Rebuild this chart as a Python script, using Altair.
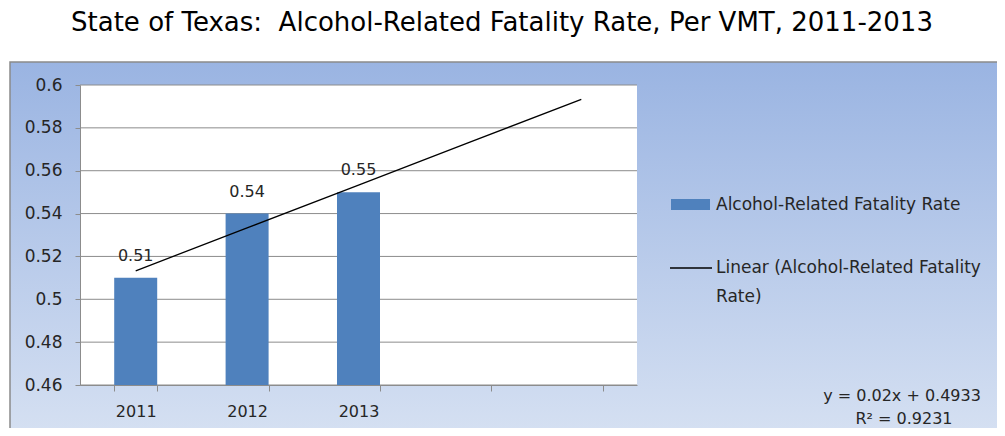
import altair as alt
import pandas as pd

# ---------------- data ----------------
categories = ["2011", "2012", "2013", " ", "  "]
years = ["2011", "2012", "2013"]
rates = [0.51, 0.54, 0.55]
rate_labels = ["0.51", "0.54", "0.55"]
trend_values = [0.5133, 0.5333, 0.5533, 0.5733, 0.5933]
y_ticks = [0.46, 0.48, 0.50, 0.52, 0.54, 0.56, 0.58, 0.60]
title_text = "State of Texas:\u00a0 Alcohol-Related Fatality Rate, Per VMT, 2011-2013"
legend_labels = ["Alcohol-Related Fatality Rate", "Linear (Alcohol-Related Fatality", "Rate)"]
equation_lines = ["y = 0.02x + 0.4933", "R\u00b2 = 0.9231"]

# ---------------- layout / style ----------------
W, H = 557, 300
FONT = "DejaVu Sans"
BAR = "#4F81BD"
GRID = "#8C8C8C"
TEXT = "#262626"

bars_df = pd.DataFrame({"year": years, "rate": rates, "label": rate_labels})
trend_df = pd.DataFrame({"year": categories, "trend": trend_values})
grid_df = pd.DataFrame({"v": y_ticks})
one = pd.DataFrame({"k": [0]})

xscale = alt.Scale(domain=categories, paddingInner=0.614, paddingOuter=0.307)
yscale = alt.Scale(domain=[0.46, 0.60], nice=False, zero=False)

frame = alt.Chart(one).mark_rect(
    fill=alt.LinearGradient(
        gradient="linear",
        stops=[alt.GradientStop(offset=0, color="#9AB4E2"),
               alt.GradientStop(offset=1, color="#DDE6F4")],
        x1=0, x2=0, y1=0, y2=1),
    stroke="#8A8A8A", strokeWidth=1.5,
).encode(x=alt.value(-70), x2=alt.value(1000), y=alt.value(-23), y2=alt.value(400))

plot_bg = alt.Chart(one).mark_rect(fill="white").encode(
    x=alt.value(0), x2=alt.value(W), y=alt.value(0), y2=alt.value(H))

grid = alt.Chart(grid_df).mark_rule(color=GRID, strokeWidth=1).encode(
    y=alt.Y("v:Q", scale=yscale), x=alt.value(0), x2=alt.value(W))

bars = alt.Chart(bars_df).mark_bar(color=BAR).encode(
    x=alt.X("year:N", scale=xscale, sort=categories,
            axis=alt.Axis(title=None, domainColor=GRID, tickColor=GRID, tickSize=6,
                          tickBand="extent", labelFontSize=16, labelFont=FONT,
                          labelColor=TEXT, labelPadding=12, labelAngle=0, zindex=1)),
    y=alt.Y("rate:Q", scale=yscale,
            axis=alt.Axis(title=None, values=y_ticks, format=".2~f", grid=False,
                          domainColor=GRID, tickColor=GRID, tickSize=5,
                          labelFontSize=17, labelFont=FONT, labelColor=TEXT,
                          labelPadding=13, zindex=1)),
    y2=alt.datum(0.46),
)

bar_labels = alt.Chart(bars_df).mark_text(
    font=FONT, fontSize=16, color=TEXT, dy=-22).encode(
    x=alt.X("year:N", scale=xscale, sort=categories),
    y=alt.Y("rate:Q", scale=yscale),
    text="label:N")

trend = alt.Chart(trend_df).mark_line(color="black", strokeWidth=1.3).encode(
    x=alt.X("year:N", scale=xscale, sort=categories),
    y=alt.Y("trend:Q", scale=yscale))

title = alt.Chart(one).mark_text(font=FONT, fontSize=26, color="black",
                                 baseline="alphabetic").encode(
    x=alt.value(422), y=alt.value(-54), text=alt.value(title_text))

LEG_FS = 17
leg_rect = alt.Chart(one).mark_rect(color=BAR).encode(
    x=alt.value(591), x2=alt.value(630), y=alt.value(114), y2=alt.value(125))
leg_t1 = alt.Chart(one).mark_text(font=FONT, fontSize=LEG_FS, color=TEXT, align="left",
                                  baseline="middle").encode(
    x=alt.value(636), y=alt.value(120), text=alt.value(legend_labels[0]))
leg_line = alt.Chart(one).mark_rule(color="black", strokeWidth=1.3).encode(
    x=alt.value(590), x2=alt.value(632), y=alt.value(183))
leg_t2 = alt.Chart(one).mark_text(font=FONT, fontSize=LEG_FS, color=TEXT, align="left",
                                  baseline="middle").encode(
    x=alt.value(636), y=alt.value(183), text=alt.value(legend_labels[1]))
leg_t3 = alt.Chart(one).mark_text(font=FONT, fontSize=LEG_FS, color=TEXT, align="left",
                                  baseline="middle").encode(
    x=alt.value(636), y=alt.value(212), text=alt.value(legend_labels[2]))

eq1 = alt.Chart(one).mark_text(font=FONT, fontSize=16, color=TEXT, align="center",
                               baseline="middle").encode(
    x=alt.value(822), y=alt.value(311), text=alt.value(equation_lines[0]))
eq2 = alt.Chart(one).mark_text(font=FONT, fontSize=16, color=TEXT, align="center",
                               baseline="middle").encode(
    x=alt.value(824), y=alt.value(334), text=alt.value(equation_lines[1]))

chart = alt.layer(
    frame, plot_bg, grid, bars, bar_labels, trend, title,
    leg_rect, leg_t1, leg_line, leg_t2, leg_t3, eq1, eq2,
).properties(
    width=W, height=H,
    autosize=alt.AutoSizeParams(type="none"),
    padding={"left": 72, "top": 77, "right": 360, "bottom": 43},
).configure_view(stroke=None).configure(background="white")

chart.save("out.html", embed_options={"renderer": "svg", "actions": False})
